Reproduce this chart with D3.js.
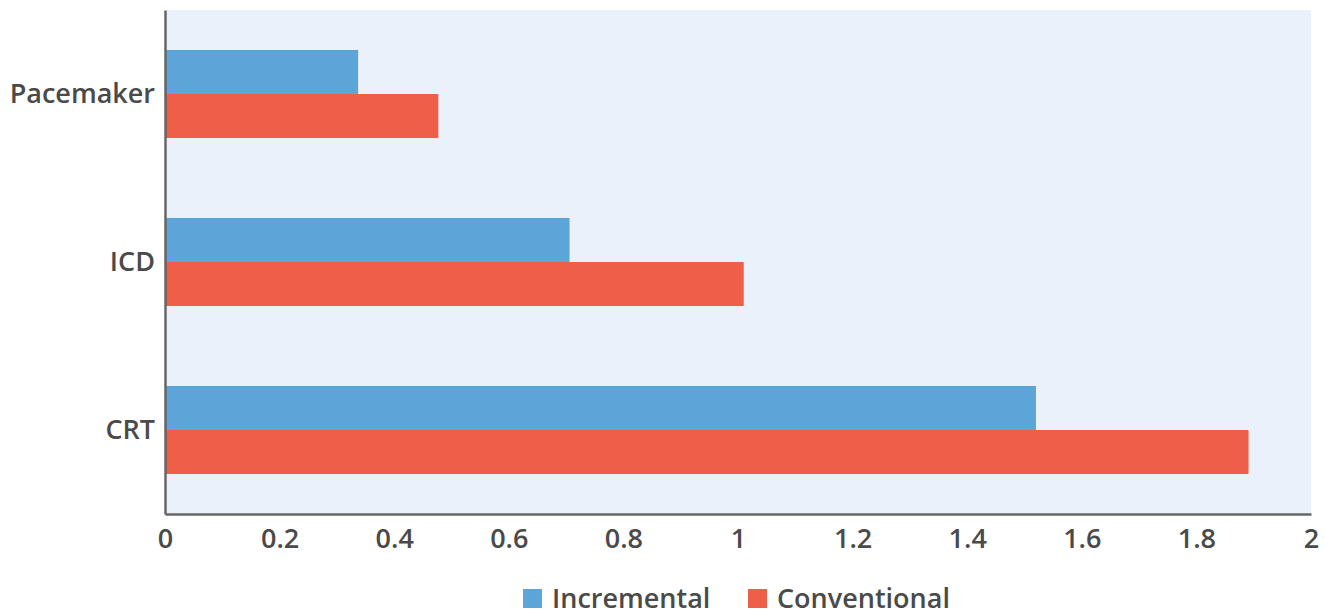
<!DOCTYPE html>
<html>
<head>
<meta charset="utf-8">
<script src="https://cdn.jsdelivr.net/npm/d3@7"></script>
<style>
  html, body { margin: 0; padding: 0; background: #ffffff; }
  svg { display: block; }
  text { font-family: "Open Sans", "Noto Sans", sans-serif; fill: #4a4a4a; font-weight: 600; }
</style>
</head>
<body>
<svg id="chart" width="1325" height="616"></svg>
<script>
// Device categories, top to bottom
const categories = ["Pacemaker", "ICD", "CRT"];
const seriesNames = ["Incremental", "Conventional"];
const incremental = [0.337, 0.706, 1.52];
const conventional = [0.477, 1.01, 1.891];
const xTicks = [0, 0.2, 0.4, 0.6, 0.8, 1, 1.2, 1.4, 1.6, 1.8, 2];
const colors = { Incremental: "#5ba5d9", Conventional: "#ef5e48" };

const svg = d3.select("#chart");
const margin = { left: 165, right: 14, top: 10, bottom: 102 };
const W = 1325, H = 616;
const plotW = W - margin.left - margin.right;
const plotH = H - margin.top - margin.bottom;

const g = svg.append("g").attr("transform", `translate(${margin.left},${margin.top})`);

const x = d3.scaleLinear().domain([0, 2]).range([0, plotW]);
const y = d3.scaleBand().domain(categories).range([0, plotH]).paddingInner(0.476).paddingOuter(0.238);
const ySub = d3.scaleBand().domain(seriesNames).range([0, y.bandwidth()]);

// plot background
g.append("rect").attr("x", 0).attr("y", 0).attr("width", plotW).attr("height", plotH).attr("fill", "#eaf1fa");

const rows = categories.map((c, i) => ({ cat: c, values: [
  { key: "Incremental", v: incremental[i] },
  { key: "Conventional", v: conventional[i] }
]}));

const grp = g.selectAll("g.row").data(rows).join("g")
  .attr("class", "row")
  .attr("transform", d => `translate(0,${y(d.cat)})`);

grp.selectAll("rect").data(d => d.values).join("rect")
  .attr("x", x(0))
  .attr("y", d => ySub(d.key))
  .attr("width", d => x(d.v) - x(0))
  .attr("height", ySub.bandwidth())
  .attr("fill", d => colors[d.key]);

// x axis
const xAxis = g.append("g").attr("transform", `translate(0,${plotH})`)
  .call(d3.axisBottom(x).tickValues(xTicks).tickSize(0).tickPadding(15).tickFormat(d3.format("~g")));
xAxis.select(".domain").attr("stroke", "#666").attr("stroke-width", 2.5);
xAxis.selectAll("text").style("font-size", "27px").attr("fill", "#4a4a4a");

// y axis
const yAxis = g.append("g")
  .call(d3.axisLeft(y).tickSize(0).tickPadding(10));
yAxis.select(".domain").attr("stroke", "#666").attr("stroke-width", 2.5);
yAxis.selectAll("text").style("font-size", "27px").attr("fill", "#4a4a4a");

// legend
const legend = svg.append("g").attr("transform", "translate(523,589)");
const items = [{ key: "Incremental", x: 0 }, { key: "Conventional", x: 225 }];
const li = legend.selectAll("g").data(items).join("g").attr("transform", d => `translate(${d.x},0)`);
li.append("rect").attr("width", 19).attr("height", 19).attr("fill", d => colors[d.key]);
li.append("text").attr("x", 29).attr("y", 10).attr("dy", "0.35em")
  .style("font-size", "27px").text(d => d.key);
</script>
</body>
</html>
